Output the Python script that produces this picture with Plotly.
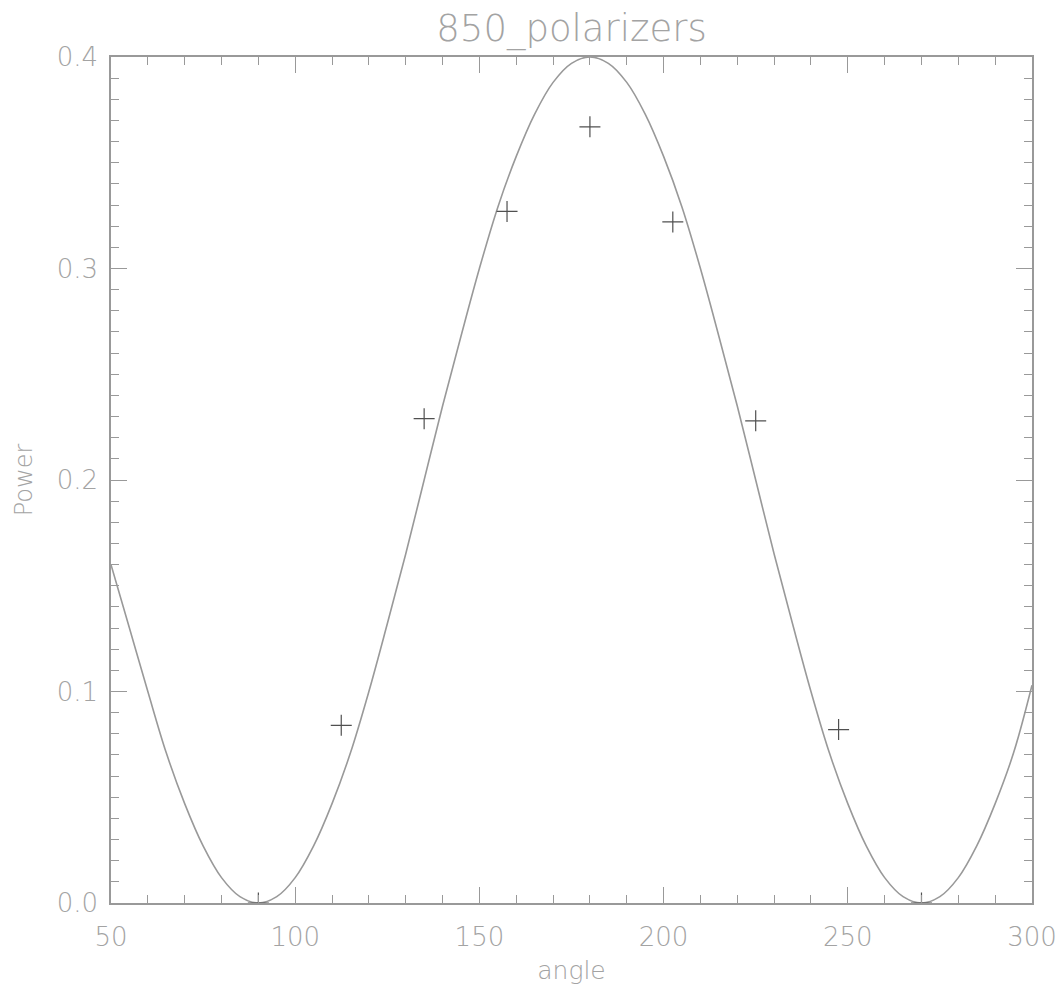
import plotly.graph_objects as go

# Fitted curve (angle in degrees, power)
curve_angle = [50, 55, 60, 65, 70, 75, 80, 85, 90, 95, 100, 105, 110, 115, 120, 125,
               130, 135, 140, 145, 150, 155, 160, 165, 170, 175, 180, 185, 190, 195,
               200, 205, 210, 215, 220, 225, 230, 235, 240, 245, 250, 255, 260, 265,
               270, 275, 280, 285, 290, 295, 300]
curve_power = [0.160, 0.130, 0.100, 0.071, 0.047, 0.027, 0.012, 0.003, 0.000, 0.003,
               0.012, 0.027, 0.047, 0.071, 0.100, 0.132, 0.165, 0.200, 0.235, 0.268,
               0.300, 0.329, 0.353, 0.373, 0.388, 0.397, 0.400, 0.397, 0.388, 0.373,
               0.353, 0.329, 0.300, 0.268, 0.235, 0.200, 0.165, 0.132, 0.100, 0.071,
               0.047, 0.027, 0.012, 0.003, 0.000, 0.003, 0.012, 0.027, 0.047, 0.071,
               0.103]

# Measured points
meas_angle = [90, 112.5, 135, 157.5, 180, 202.5, 225, 247.5, 270]
meas_power = [0.000, 0.084, 0.229, 0.327, 0.367, 0.322, 0.228, 0.082, 0.000]

axis_col = "#999999"
text_col = "#a3a3a3"
font_fam = "DejaVu Sans, sans-serif"

fig = go.Figure()
fig.add_trace(go.Scatter(x=curve_angle, y=curve_power, mode="lines",
                         line=dict(color="#999999", width=1.6, shape="spline"),
                         showlegend=False, hoverinfo="skip"))
fig.add_trace(go.Scatter(x=meas_angle, y=meas_power, mode="markers",
                         marker=dict(symbol="cross-thin", size=15,
                                     line=dict(color="#505050", width=1.2)),
                         showlegend=False))

fig.update_layout(
    width=1062, height=988,
    margin=dict(l=111, r=30, t=57, b=85, autoexpand=False),
    paper_bgcolor="white", plot_bgcolor="white",
    font=dict(family=font_fam, color=text_col, size=26, weight=200),
    title=dict(text="850_polarizers", xref="paper", x=0.5, xanchor="center",
               yref="container", y=1 - 28 / 988, yanchor="middle",
               font=dict(size=37, color=text_col, family=font_fam, weight=200)),
)
fig.update_xaxes(range=[50, 300], dtick=50, tick0=50, showgrid=False, zeroline=False,
                 automargin=False,
                 showline=True, linecolor=axis_col, linewidth=1.5, mirror="ticks",
                 ticks="inside", ticklen=16, tickcolor=axis_col, tickwidth=1.2,
                 minor=dict(ticks="inside", ticklen=8, dtick=10, tickcolor=axis_col, tickwidth=1.2),
                 ticklabelstandoff=10,
                 title=dict(text="angle", font=dict(size=25, color=text_col, family=font_fam, weight=200),
                            standoff=11),
                 tickfont=dict(size=26, color=text_col, family=font_fam, weight=200))
fig.update_yaxes(range=[0, 0.4], dtick=0.1, tick0=0, tickformat=".1f", showgrid=False,
                 automargin=False,
                 zeroline=False, showline=True, linecolor=axis_col, linewidth=1.5,
                 mirror="ticks", ticks="inside", ticklen=16, tickcolor=axis_col, tickwidth=1.2,
                 minor=dict(ticks="inside", ticklen=8, dtick=0.01, tickcolor=axis_col, tickwidth=1.2),
                 ticklabelstandoff=6,
                 title=dict(text="Power", font=dict(size=24, color=text_col, family=font_fam, weight=200),
                            standoff=17),
                 tickfont=dict(size=26, color=text_col, family=font_fam, weight=200))

fig.write_html("out.html")
